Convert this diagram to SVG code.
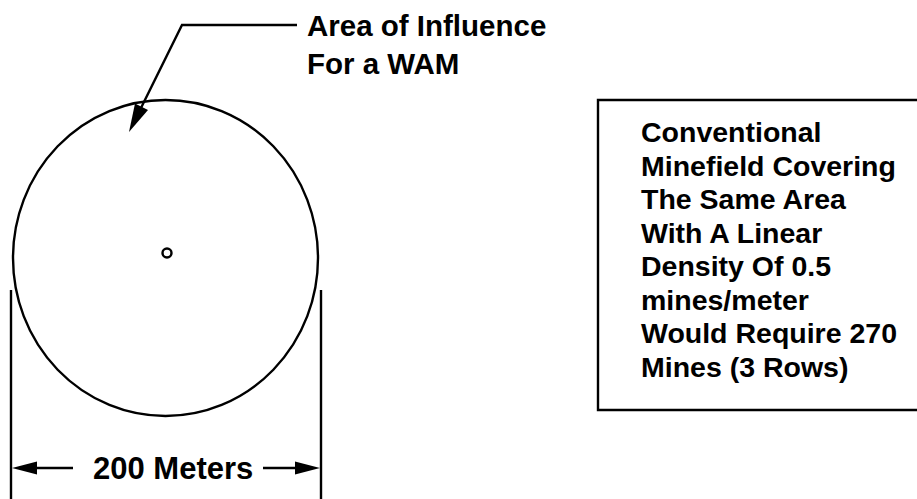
<svg xmlns="http://www.w3.org/2000/svg" width="917" height="499" viewBox="0 0 917 499">
<style>
text{font-family:"Liberation Sans",Arial,Helvetica,sans-serif;font-weight:bold;fill:#000}
.ln{stroke:#000;stroke-width:2.4;fill:none}
.ah{fill:#000;stroke:none}
</style>
<rect width="917" height="499" fill="#fff"/>
<g id="wam-area">
<ellipse cx="165.5" cy="258" rx="152.5" ry="158" class="ln"/>
<circle cx="167" cy="253" r="4.5" fill="none" stroke="#000" stroke-width="2.4"/>
</g>
<g id="label-area">
<text x="307" y="36" font-size="29.5">Area of Influence</text>
<text x="307" y="74" font-size="29.5">For a WAM</text>
</g>
<g id="info-box">
<polyline points="917,100 598,100 598,410 917,410" class="ln"/>
<text font-size="28.5" x="641">
<tspan x="641" y="142">Conventional</tspan>
<tspan x="641" y="175.5">Minefield Covering</tspan>
<tspan x="641" y="209">The Same Area</tspan>
<tspan x="641" y="242.5">With A Linear</tspan>
<tspan x="641" y="276">Density Of 0.5</tspan>
<tspan x="641" y="309.5">mines/meter</tspan>
<tspan x="641" y="343">Would Require 270</tspan>
<tspan x="641" y="376.5">Mines (3 Rows)</tspan>
</text>
</g>
<g id="dimension">
<line x1="11" y1="290" x2="11" y2="499" class="ln"/>
<line x1="321" y1="290" x2="321" y2="499" class="ln"/>
<text x="93" y="479" font-size="31">200 Meters</text>
</g>
<g id="connectors">
<polyline points="297,25 182,25 139,112" class="ln"/>
<polygon points="129,132 135,103.5 148,110" class="ah"/>
<line x1="30" y1="468" x2="73" y2="468" class="ln"/>
<polygon points="12,468 37,461.5 37,474.5" class="ah"/>
<line x1="263" y1="468" x2="302" y2="468" class="ln"/>
<polygon points="320,468 295,461.5 295,474.5" class="ah"/>
</g>
</svg>
